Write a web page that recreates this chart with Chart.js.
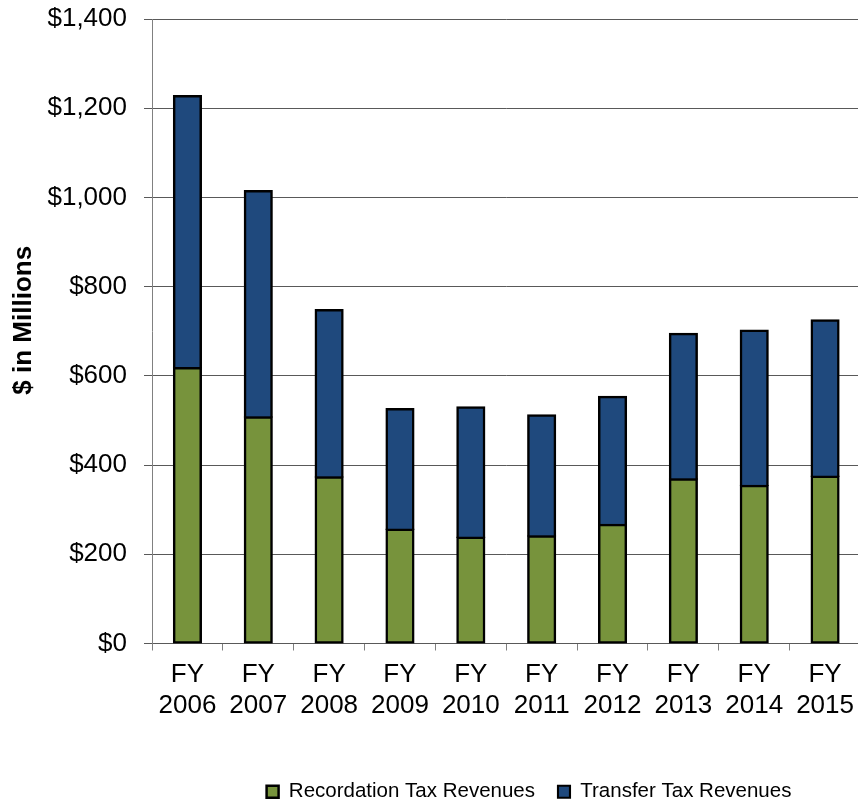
<!DOCTYPE html>
<html>
<head>
<meta charset="utf-8">
<script src="https://cdn.jsdelivr.net/npm/chart.js@4.4.0/dist/chart.umd.min.js"></script>
<style>
  html, body { margin: 0; padding: 0; background: #fff; overflow: hidden; width: 858px; height: 803px; }
  #wrap { position: absolute; left: 0; top: 0; width: 863px; height: 803px; }
</style>
</head>
<body>
<div id="wrap"><canvas id="c" width="863" height="803"></canvas></div>
<script>
const years = ['2006', '2007', '2008', '2009', '2010', '2011', '2012', '2013', '2014', '2015'];
const recordation = [618, 508, 373, 256, 238, 241, 267, 369, 354, 375];
const transfer = [610, 507, 375, 270, 292, 271, 287, 326, 348, 350];
const seriesNames = ['Recordation Tax Revenues', 'Transfer Tax Revenues'];
const yTicks = [0, 200, 400, 600, 800, 1000, 1200, 1400];
const yTitle = '$ in Millions';

const categories = years.map(y => ['FY', y]);
const FONT = "'Liberation Sans', Arial, sans-serif";
Chart.defaults.font.family = FONT;
Chart.defaults.color = '#000';

const LEGEND_CENTER_X = 529;
const LEGEND_DY = 9;
const TITLE_DY = -11;
const legendShift = {
  id: 'legendShift',
  afterLayout(chart) {
    const lg = chart.legend;
    if (!lg) return;
    const dx = LEGEND_CENTER_X - (lg.left + lg.right) / 2;
    lg.left += dx; lg.right += dx;
    lg.top += LEGEND_DY; lg.bottom += LEGEND_DY;
  }
};

new Chart(document.getElementById('c'), {
  type: 'bar',
  data: {
    labels: categories,
    datasets: [
      {
        label: seriesNames[0],
        data: recordation,
        backgroundColor: '#77933C',
        borderColor: '#000',
        borderWidth: 2.5,
        borderSkipped: false,
        inflateAmount: 0.75,
        barPercentage: 0.39,
        categoryPercentage: 1.0
      },
      {
        label: seriesNames[1],
        data: transfer,
        backgroundColor: '#1F497D',
        borderColor: '#000',
        borderWidth: { top: 2.5, left: 2.5, right: 2.5, bottom: 1 },
        borderSkipped: false,
        inflateAmount: 0.75,
        barPercentage: 0.39,
        categoryPercentage: 1.0
      }
    ]
  },
  options: {
    responsive: false,
    animation: false,
    devicePixelRatio: 1,
    layout: { padding: { top: 19, right: 0, bottom: 0, left: 0 } },
    plugins: {
      tooltip: { enabled: false },
      legend: {
        position: 'bottom',
        align: 'center',
        labels: {
          boxWidth: 12,
          boxHeight: 12,
          padding: 23,
          color: '#000',
          font: { size: 20.5, family: FONT }
        }
      }
    },
    scales: {
      x: {
        stacked: true,
        offset: true,
        grid: {
          display: true,
          offset: true,
          drawOnChartArea: false,
          drawTicks: true,
          tickLength: 7,
          color: '#808080'
        },
        border: { display: true, color: '#595959', width: 1 },
        ticks: {
          color: '#000',
          padding: 9,
          maxRotation: 0,
          autoSkip: false,
          font: { size: 26, family: FONT, lineHeight: 1.2 }
        },
        afterFit(scale) { scale.height = 106; }
      },
      y: {
        stacked: true,
        min: 0,
        max: 1400,
        afterBuildTicks(scale) { scale.ticks = yTicks.map(v => ({ value: v })); },
        grid: {
          color: '#595959',
          lineWidth: 1,
          drawTicks: true,
          tickLength: 8
        },
        border: { display: true, color: '#808080', width: 1 },
        ticks: {
          color: '#000',
          padding: 17,
          font: { size: 26, family: FONT },
          callback: (v) => '$' + Number(v).toLocaleString('en-US')
        },
        title: {
          display: true,
          text: yTitle,
          color: '#000',
          padding: { top: 8, bottom: 0 },
          font: { size: 26, weight: 'bold', family: FONT }
        },
        afterFit(scale) {
          scale.width = 152;
          scale.paddingTop = 0;
          scale.paddingBottom = 0;
          if (!scale._titleShifted) {
            const orig = scale.drawTitle.bind(scale);
            scale.drawTitle = function () {
              const ctx = this.ctx;
              ctx.save();
              ctx.translate(0, TITLE_DY);
              orig();
              ctx.restore();
            };
            scale._titleShifted = true;
          }
        }
      }
    }
  },
  plugins: [legendShift]
});
</script>
</body>
</html>
